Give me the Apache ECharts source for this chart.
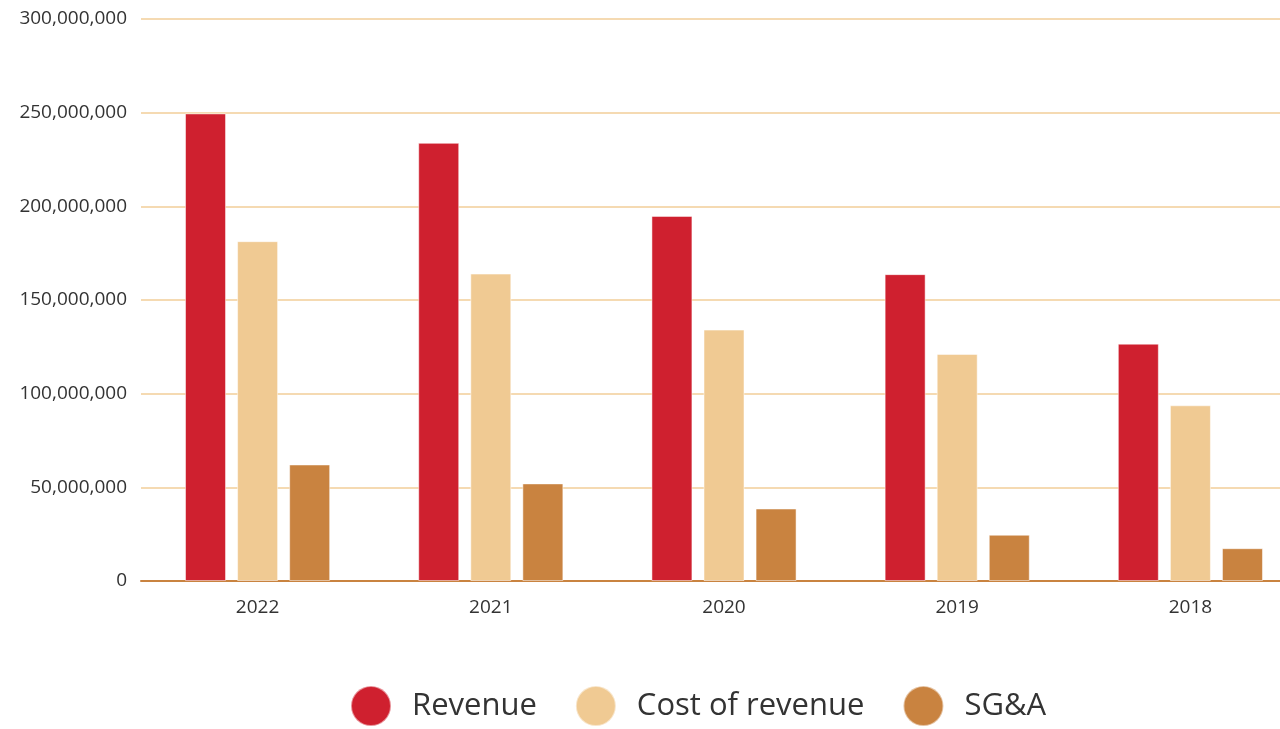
<!DOCTYPE html>
<html>
<head>
<meta charset="utf-8">
<script src="https://cdn.jsdelivr.net/npm/echarts@6/dist/echarts.min.js"></script>
<style>
  html, body { margin: 0; padding: 0; background: #fff; }
  #chart { width: 1280px; height: 729px; }
</style>
</head>
<body>
<div id="chart"></div>
<script>
// 年份(从新到旧)
const years = ['2022', '2021', '2020', '2019', '2018']
const revenue = [249600000, 233900000, 194900000, 163800000, 126700000]
const costOfRevenue = [181400000, 164100000, 134200000, 121200000, 93800000]
const sga = [62200000, 52100000, 38700000, 24700000, 17500000]

const chart = echarts.init(document.getElementById('chart'))

const font = '"Open Sans", sans-serif'

function barSeries(name, data, color) {
  return {
    name: name,
    type: 'bar',
    data: data,
    barWidth: 41,
    barGap: '27%',
    itemStyle: {
      color: color,
      borderColor: 'rgba(255, 255, 255, 0.5)',
      borderWidth: 1
    }
  }
}

chart.setOption({
  animation: false,
  color: ['#CF202F', '#F0CA93', '#C98340'],
  legend: {
    data: ['Revenue', 'Cost of revenue', 'SG&A'],
    left: 345,
    top: 680,
    icon: 'circle',
    itemWidth: 40,
    itemHeight: 40,
    itemGap: 38,
    textStyle: {
      fontFamily: font,
      fontSize: 31,
      color: '#333',
      padding: [0, 0, 0, 16]
    }
  },
  grid: {
    left: 141,
    width: 1166,
    top: 19,
    bottom: 148,
    containLabel: false,
    outerBoundsMode: 'none'
  },
  xAxis: {
    type: 'category',
    data: years,
    axisLine: {
      lineStyle: { color: '#C98340', width: 2 }
    },
    axisTick: { show: false },
    axisLabel: {
      color: '#333',
      fontFamily: font,
      fontSize: 19,
      margin: 17
    }
  },
  yAxis: {
    type: 'value',
    min: 0,
    max: 300000000,
    interval: 50000000,
    axisLine: { show: false },
    axisTick: { show: false },
    axisLabel: {
      color: '#333',
      fontFamily: font,
      fontSize: 19,
      margin: 14,
      formatter: v => v.toLocaleString('en-US')
    },
    splitLine: {
      lineStyle: { color: '#F2CE98', width: 1.5 }
    }
  },
  series: [
    barSeries('Revenue', revenue, '#CF202F'),
    barSeries('Cost of revenue', costOfRevenue, '#F0CA93'),
    barSeries('SG&A', sga, '#C98340')
  ]
})
</script>
</body>
</html>
